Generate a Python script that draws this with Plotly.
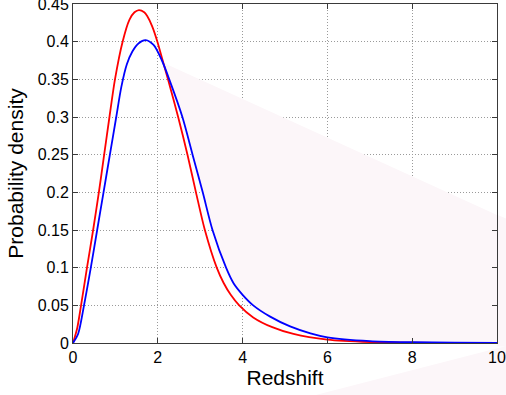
import plotly.graph_objects as go

# Values
red_z = [0, 0.1, 0.19, 0.33, 0.475, 0.61, 0.735, 0.86, 0.99, 1.17, 1.33, 1.45, 1.556, 1.68, 1.75,
         1.87, 1.99, 2.11, 2.24, 2.48, 2.70, 2.90, 3.11, 3.39, 3.55, 3.72, 3.92, 4.25, 4.7, 5.2,
         6.0, 7.0, 8.0, 9.0, 10.0]
red_p = [0, 0.02, 0.05, 0.10, 0.15, 0.20, 0.25, 0.30, 0.35, 0.40, 0.429, 0.439, 0.442, 0.439, 0.434,
         0.42, 0.40, 0.376, 0.35, 0.30, 0.25, 0.20, 0.15, 0.10, 0.08, 0.064, 0.05, 0.034, 0.021, 0.012,
         0.0045, 0.0013, 0.0004, 0.0001, 0.0]

blue_z = [0, 0.12, 0.26, 0.42, 0.57, 0.72, 0.87, 1.02, 1.14, 1.27, 1.4, 1.55, 1.714, 1.9, 2.09,
          2.27, 2.58, 2.82, 3.06, 3.29, 3.61, 3.79, 4.0, 4.25, 4.65, 5.12, 5.6, 6.0, 7.0, 8.0, 9.0, 10.0]
blue_p = [0, 0.012, 0.05, 0.10, 0.15, 0.20, 0.25, 0.30, 0.34, 0.37, 0.387, 0.398, 0.402, 0.3956, 0.376,
          0.35, 0.30, 0.25, 0.20, 0.15, 0.10, 0.079, 0.064, 0.05, 0.035, 0.022, 0.0128, 0.0075, 0.0025,
          0.001, 0.0004, 0.0001]

# faint pink smudge in the reference (upper edge, in data units)
shade_top_z = [2.13, 10.0]
shade_top_p = [0.372, 0.170]

x_ticks = [0, 2, 4, 6, 8, 10]
y_ticks = [0, 0.05, 0.1, 0.15, 0.2, 0.25, 0.3, 0.35, 0.4, 0.45]
y_labels = ["0", "0.05", "0.1", "0.15", "0.2", "0.25", "0.3", "0.35", "0.4", "0.45"]

pink = "#fcf6f9"
axis_col = "#3a3a3a"
font = "Liberation Sans, Arial, sans-serif"

# polygon: blue tail from the crossing, back along the straight upper edge
tail = [(z, p) for z, p in zip(blue_z, blue_p) if z > shade_top_z[0]]
sx = [shade_top_z[0]] + [t[0] for t in tail] + shade_top_z[::-1]
sy = [shade_top_p[0]] + [t[1] for t in tail] + shade_top_p[::-1]

fig = go.Figure()
fig.add_trace(go.Scatter(x=sx, y=sy, mode="lines", fill="toself", fillcolor=pink,
                         line=dict(width=0), hoverinfo="skip", showlegend=False))
fig.add_trace(go.Scatter(x=red_z, y=red_p, mode="lines",
                         line=dict(color="#ff0000", width=1.8, shape="spline", smoothing=0.8),
                         showlegend=False))
fig.add_trace(go.Scatter(x=blue_z, y=blue_p, mode="lines",
                         line=dict(color="#0000ff", width=1.8, shape="spline", smoothing=0.8),
                         showlegend=False))

# rest of the smudge, outside the axes box
fig.add_shape(type="path", xref="paper", yref="paper", layer="below",
              path="M 1 0.378 L 1.03 0.363 L 1.03 -0.01 L 1 -0.01 Z",
              fillcolor=pink, line=dict(width=0))
fig.add_shape(type="path", xref="paper", yref="paper", layer="below",
              path="M 0.552 -0.16 L 1.03 -0.006 L 1.03 -0.16 Z",
              fillcolor=pink, line=dict(width=0))

axis_common = dict(showline=True, linecolor=axis_col, linewidth=1, mirror="ticks",
                   ticks="inside", ticklen=5, tickcolor=axis_col, automargin=False,
                   ticklabeloverflow="allow",
                   showgrid=True, gridcolor="#9a9a9a", griddash="1px,2px", gridwidth=1,
                   zeroline=False, tickfont=dict(family=font, size=16, color="black"))

fig.update_xaxes(range=[0, 10], tickvals=x_ticks, ticktext=[str(v) for v in x_ticks],
                 title=dict(text="Redshift", font=dict(family=font, size=21, color="black"), standoff=4),
                 **axis_common)
fig.update_yaxes(range=[0, 0.45], tickvals=y_ticks, ticktext=y_labels,
                 title=dict(text="Probability density", font=dict(family=font, size=21, color="black"), standoff=8),
                 **axis_common)

fig.update_layout(width=506, height=395, margin=dict(l=73, r=9, t=4, b=52),
                  paper_bgcolor="white", plot_bgcolor="white", showlegend=False)

# the page's default body margin would shift the chart by 8px
fig.write_html("out.html", config={"displayModeBar": False},
               post_script="document.body.style.margin='0';")
